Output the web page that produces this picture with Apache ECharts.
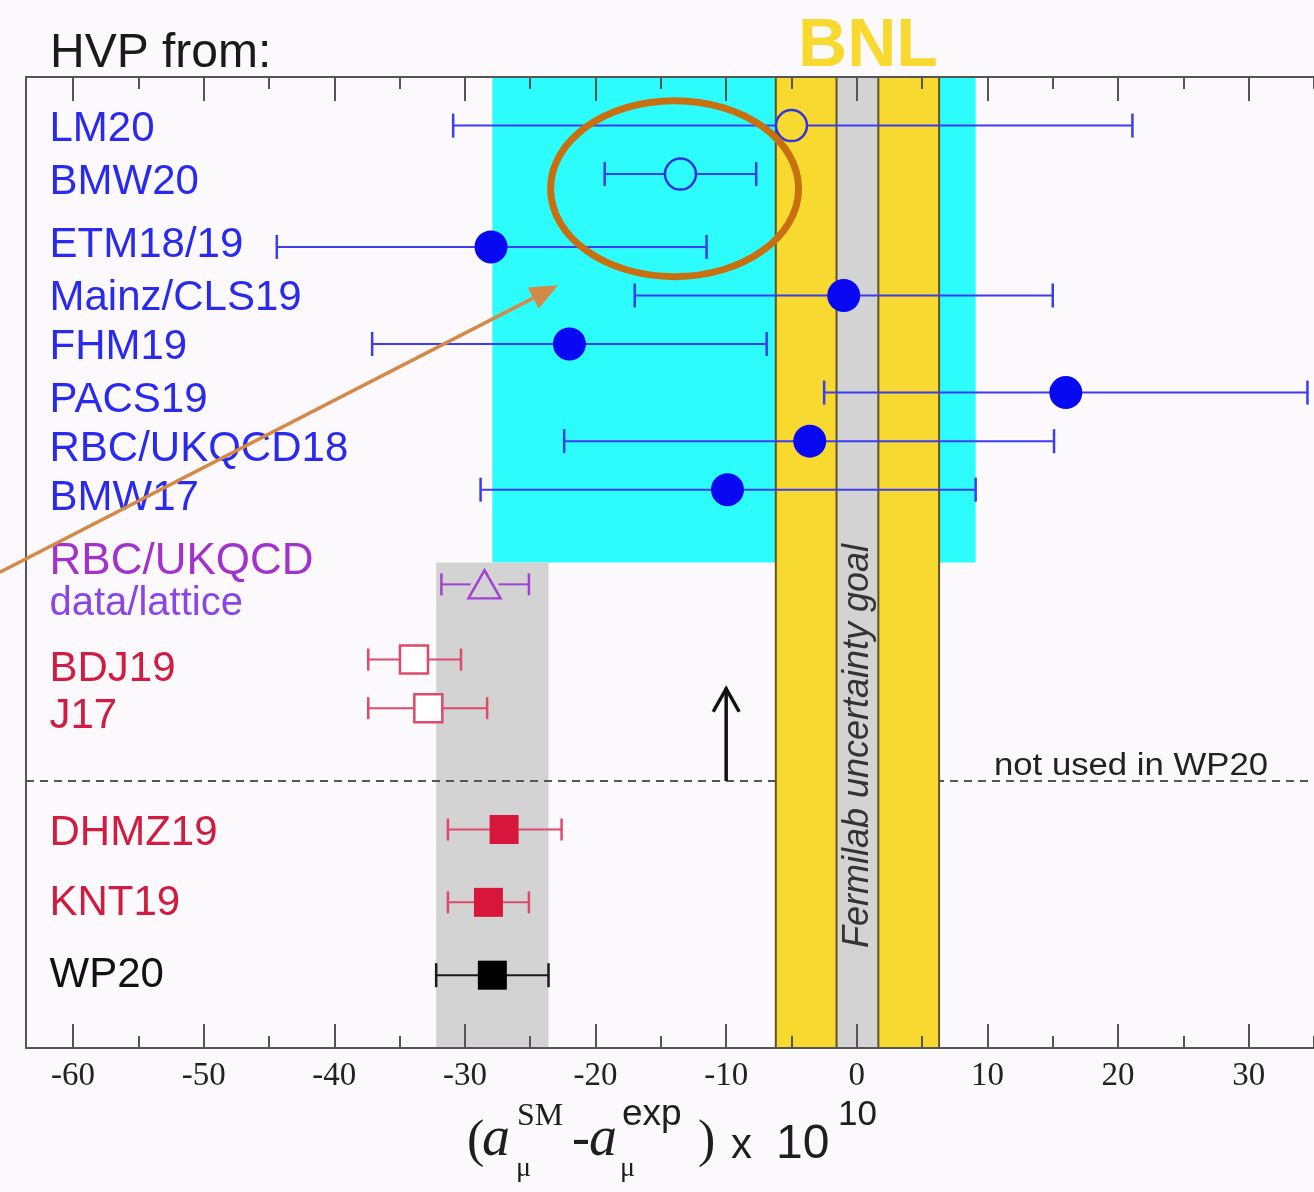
<!DOCTYPE html>
<html><head><meta charset="utf-8">
<script src="https://cdn.jsdelivr.net/npm/echarts@6/dist/echarts.min.js"></script>
<style>html,body{margin:0;padding:0;background:#fcf9fc;}#c{width:1314px;height:1192px;}</style>
</head><body><div id="c"></div>
<script>
// ---------------- data ----------------
const names   = ['LM20','BMW20','ETM18/19','Mainz/CLS19','FHM19','PACS19','RBC/UKQCD18','BMW17','RBC/UKQCD\ndata/lattice','BDJ19','J17','DHMZ19','KNT19','WP20'];
const central = [-5.0, -13.5, -28.0, -1.0, -22.0, 16.0, -3.6, -9.9, -28.5, -33.9, -32.8, -27.0, -28.2, -27.9];
const lower   = [-30.9, -19.3, -44.4, -17.0, -37.1, -2.5, -22.4, -28.8, -31.8, -37.4, -37.4, -31.3, -31.3, -32.2];
const upper   = [21.1, -7.7, -11.5, 15.0, -6.9, 34.5, 15.1, 9.1, -25.1, -30.3, -28.3, -22.6, -25.1, -23.6];
const rows    = [19, 18, 16.5, 15.5, 14.5, 13.5, 12.5, 11.5, 9.55, 8, 7, 4.5, 3, 1.5];
const labelRows = [18.93, 17.83, 16.54, 15.44, 14.42, 13.34, 12.33, 11.33, 9.6, 7.79, 6.82, 4.43, 2.97, 1.49];
const groups  = ['lat','lat','lat','lat','lat','lat','lat','lat','rbc','old','old','ee','ee','wp'];
const markers = ['openCircle','openCircle','circle','circle','circle','circle','circle','circle','openTriangle','openSquare','openSquare','square','square','square'];
const xTicksMajor = [-60,-50,-40,-30,-20,-10,0,10,20,30];
const xTicksMinor = [-55,-45,-35,-25,-15,-5,5,15,25,35];
const latticeBand = [-27.9, 9.1];  const latticeBandRows = [10, 20];
const wpBand = [-32.2, -23.6];     const wpBandRows = [0, 10];
const bnlBand = [-6.2, 6.3];
const fnalGoalBand = [-1.55, 1.65];
const notUsedRow = 5.5;
const upArrow = [-10, 5.5, 7.42];

// ---------------- styles ----------------
const X_MIN = -63.6, X_MAX = 35;
const groupStyle = {
  lat: {label:'#2a2aee', bar:'#3c3cf0', mark:'#0808f2', cap:12},
  rbc: {label:'#a035cf', bar:'#a440d6', mark:'#a440d6', cap:11},
  old: {label:'#d01c40', bar:'#de4a6a', mark:'#de4a6a', cap:11},
  ee:  {label:'#d01c40', bar:'#de4a6a', mark:'#d6173b', cap:11},
  wp:  {label:'#111111', bar:'#1a1a1a', mark:'#000000', cap:12}
};
const markerDef = {
  openCircle:  (c)=>({symbol:'circle', symbolSize:31, itemStyle:{color:'rgba(0,0,0,0)', borderColor:'#3333dc', borderWidth:2.5, opacity:1}, gap:15}),
  circle:      (c)=>({symbol:'circle', symbolSize:33, itemStyle:{color:c, opacity:1}, gap:0}),
  openTriangle:(c)=>({symbol:'triangle', symbolSize:[32,28], itemStyle:{color:'rgba(0,0,0,0)', borderColor:c, borderWidth:2.5, opacity:1}, gap:14}),
  openSquare:  (c)=>({symbol:'rect', symbolSize:28, itemStyle:{color:'#ffffff', borderColor:c, borderWidth:2.5, opacity:1}, gap:0}),
  square:      (c)=>({symbol:'rect', symbolSize:29, itemStyle:{color:c, opacity:1}, gap:0})
};
const SANS = '"Liberation Sans", Arial, Helvetica, sans-serif';
const SERIF = '"Liberation Serif", "Times New Roman", serif';

function bandSeries(xr, yr, fill, edge, z) {
  return {
    type:'custom', z:z, silent:true,
    renderItem:(p, api)=>{
      const a = api.coord([api.value(0), api.value(3)]);
      const b = api.coord([api.value(1), api.value(2)]);
      const ch = [{type:'rect', shape:{x:a[0], y:a[1], width:b[0]-a[0], height:b[1]-a[1]}, style:{fill:fill}}];
      if (edge) {
        ch.push({type:'line', shape:{x1:a[0], y1:a[1], x2:a[0], y2:b[1]}, style:{stroke:edge, lineWidth:2}});
        ch.push({type:'line', shape:{x1:b[0], y1:a[1], x2:b[0], y2:b[1]}, style:{stroke:edge, lineWidth:2}});
      }
      return {type:'group', children:ch};
    },
    data:[[xr[0], xr[1], yr[0], yr[1]]]
  };
}

const errData = names.map((n,i)=>{
  const st = groupStyle[groups[i]];
  const md = markerDef[markers[i]](st.mark);
  return [lower[i], upper[i], rows[i], central[i], md.gap, st.cap];
});

const markerData = names.map((n,i)=>{
  const st = groupStyle[groups[i]];
  const md = markerDef[markers[i]](st.mark);
  return {value:[central[i], rows[i]], symbol:md.symbol, symbolSize:md.symbolSize, itemStyle:md.itemStyle};
});

const labelData = names.map((n,i)=>{
  const st = groupStyle[groups[i]];
  const lab = {show:true, position:'right', distance:0, color:st.label, fontSize:42, fontFamily:SANS, formatter:n, align:'left', opacity:1};
  if (n.indexOf('\n') >= 0) {
    const parts = n.split('\n');
    lab.formatter = '{a|' + parts[0] + '}\n{b|' + parts[1] + '}';
    lab.rich = {a:{fontSize:44, lineHeight:44, color:'#a232cc', fontFamily:SANS}, b:{fontSize:40, lineHeight:40, color:'#8a46e4', fontFamily:SANS}};
  }
  return {value:[-61.8, labelRows[i]], label:lab};
});

const tickAxis = (pos, vals, len, showLine, showLabel) => ({
  type:'value', position:pos, min:X_MIN, max:X_MAX, z:10, offset:0,
  axisLine:{show:showLine, onZero:false, lineStyle:{color:'#555', width:2}},
  axisTick:{show:true, inside:true, length:len, customValues:vals, lineStyle:{color:'#555', width:2}},
  axisLabel:{show:showLabel, customValues:vals, margin:12, fontFamily:SERIF, fontSize:33, color:'#222'},
  splitLine:{show:false}
});

const T = (id, text, x, y, size, family, extra) => Object.assign({id:id, type:'text', z:20,
  style:Object.assign({text:text, x:x, y:y, fontSize:size, fontFamily:family, fill:'#1e1e1e', verticalAlign:'middle'}, extra || {})});

const option = {
  backgroundColor:'#fcf9fc',
  animation:false,
  grid:{left:26, right:0, top:77, bottom:144},
  xAxis:[
    tickAxis('bottom', xTicksMajor, 24, true, true),
    tickAxis('bottom', xTicksMinor, 12, false, false),
    tickAxis('top', xTicksMajor, 24, true, false),
    tickAxis('top', xTicksMinor, 12, false, false)
  ],
  yAxis:{type:'value', min:0, max:20, z:10,
    axisLine:{show:true, onZero:false, lineStyle:{color:'#555', width:2}},
    axisTick:{show:false}, axisLabel:{show:false}, splitLine:{show:false}},
  series:[
    bandSeries(latticeBand, latticeBandRows, '#2cfcfc', null, 1),
    bandSeries(wpBand, wpBandRows, '#d3d3d3', null, 1),
    { // dashed separator
      type:'custom', z:2, silent:true,
      renderItem:(p, api)=>{
        const a = api.coord([api.value(0), api.value(2)]);
        const b = api.coord([api.value(1), api.value(2)]);
        return {type:'line', shape:{x1:a[0], y1:a[1], x2:b[0], y2:b[1]}, style:{stroke:'#555', lineWidth:2, lineDash:[8,6]}};
      },
      data:[[X_MIN, X_MAX, notUsedRow]]
    },
    bandSeries(bnlBand, [0,20], '#f8d930', '#5e5428', 3),
    bandSeries(fnalGoalBand, [0,20], '#d3d3d3', '#5e5428', 3.2),
    { // up arrow
      type:'custom', z:5, silent:true,
      renderItem:(p, api)=>{
        const a = api.coord([api.value(0), api.value(1)]);
        const b = api.coord([api.value(0), api.value(2)]);
        return {type:'group', children:[
          {type:'line', shape:{x1:a[0], y1:a[1], x2:b[0], y2:b[1]}, style:{stroke:'#111', lineWidth:3.5}},
          {type:'polyline', shape:{points:[[b[0]-13, b[1]+24],[b[0], b[1]+1],[b[0]+13, b[1]+24]]}, style:{stroke:'#111', lineWidth:3.5, fill:null}}
        ]};
      },
      data:[upArrow]
    },
    { // error bars
      type:'custom', z:5, silent:true,
      renderItem:(p, api)=>{
        const st = groupStyle[groups[p.dataIndex]];
        const y = api.value(2);
        const a = api.coord([api.value(0), y]);
        const b = api.coord([api.value(1), y]);
        const c = api.coord([api.value(3), y]);
        const gap = api.value(4), h = api.value(5);
        const ls = {stroke:st.bar, lineWidth:2};
        const ch = [];
        if (gap > 0) {
          ch.push({type:'line', shape:{x1:a[0], y1:a[1], x2:c[0]-gap, y2:c[1]}, style:ls});
          ch.push({type:'line', shape:{x1:c[0]+gap, y1:c[1], x2:b[0], y2:b[1]}, style:ls});
        } else {
          ch.push({type:'line', shape:{x1:a[0], y1:a[1], x2:b[0], y2:b[1]}, style:ls});
        }
        ch.push({type:'line', shape:{x1:a[0], y1:a[1]-h, x2:a[0], y2:a[1]+h}, style:{stroke:st.bar, lineWidth:2.5}});
        ch.push({type:'line', shape:{x1:b[0], y1:b[1]-h, x2:b[0], y2:b[1]+h}, style:{stroke:st.bar, lineWidth:2.5}});
        return {type:'group', children:ch};
      },
      data:errData
    },
    {type:'scatter', z:6, silent:true, clip:false, itemStyle:{opacity:1}, data:markerData},
    {type:'scatter', z:7, silent:true, clip:false, symbolSize:0, itemStyle:{opacity:1}, data:labelData}
  ],
  graphic:[
    T('hvp', 'HVP from:', 50, 54, 48, SANS, {fill:'#1a1a1a'}),
    T('bnl', 'BNL', 868, 47, 68, SANS, {fill:'#f8d930', fontWeight:'bold', align:'center'}),
    Object.assign(T('notused', 'not used in WP20', 1131, 766, 31, SANS, {fill:'#222', align:'center'}), {scaleX:1.12, originX:1131, originY:766}),
    {id:'fnal', type:'text', z:4, x:858, y:746, rotation:Math.PI/2, style:{text:'Fermilab uncertainty goal', x:0, y:0, fontSize:36, fontStyle:'italic', fontFamily:SANS, fill:'#333', align:'center', verticalAlign:'middle'}},
    // axis title
    T('t1', '(', 467, 1142, 52, SERIF),
    T('t2', 'a', 482, 1140, 56, SERIF, {fontStyle:'italic'}),
    T('t3', 'SM', 517, 1117, 32, SERIF),
    T('t4', 'μ', 516, 1169, 28, SERIF),
    T('t5', '-', 572, 1141, 54, SERIF),
    T('t6', 'a', 589, 1140, 56, SERIF, {fontStyle:'italic'}),
    T('t7', 'exp', 622, 1115, 37, SANS),
    T('t8', 'μ', 620, 1169, 28, SERIF),
    T('t9', ')', 698, 1142, 52, SERIF),
    T('t10', 'x', 731, 1146, 42, SANS),
    T('t11', '10', 776, 1145, 48, SANS),
    T('t12', '10', 838, 1115, 35, SANS)
  ]
};

const chart = echarts.init(document.getElementById('c'));
chart.setOption(option);

// orange annotations placed through the chart's own scales
const toPx = (v) => chart.convertToPixel({gridIndex:0}, v);
const ell = toPx([-13.95, 17.70]);
const aStart = toPx([-65.6, 9.80]);
const aTip = toPx([-22.87, 15.71]);
const dx = aTip[0]-aStart[0], dy = aTip[1]-aStart[1], L = Math.hypot(dx, dy);
const ux = dx/L, uy = dy/L, headL = 28, headW = 12;
const base = [aTip[0]-ux*headL, aTip[1]-uy*headL];
chart.setOption({graphic:{elements:[
  {id:'ellipse', type:'ellipse', z:30, shape:{cx:ell[0], cy:ell[1], rx:124, ry:88}, style:{stroke:'#c8700f', lineWidth:7, fill:null}},
  {id:'arrowLine', type:'line', z:30, shape:{x1:aStart[0], y1:aStart[1], x2:base[0], y2:base[1]}, style:{stroke:'#d48a46', lineWidth:3.5}},
  {id:'arrowHead', type:'polygon', z:30, shape:{points:[[aTip[0],aTip[1]],[base[0]-uy*headW, base[1]+ux*headW],[base[0]+uy*headW, base[1]-ux*headW]]}, style:{fill:'#d48a46'}}
]}});
</script></body></html>
